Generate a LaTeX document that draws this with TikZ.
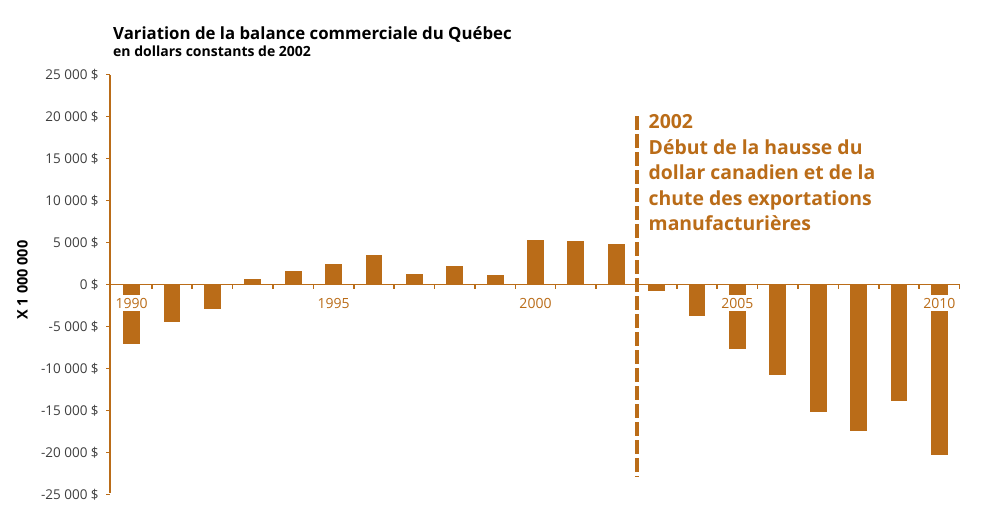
\documentclass[tikz,border=0pt]{standalone}
\usepackage{fontspec}
\setmainfont{Open Sans}
\usetikzlibrary{positioning}
\definecolor{Bronze}{RGB}{186,108,24}
\definecolor{Ink}{RGB}{62,62,62}
\newcommand{\barx}[1]{131.7+40.38*(#1-1990)}
\newcommand{\valy}[1]{284.3-8.4*(#1)}

\begin{document}
\begin{tikzpicture}[x=1pt, y=-1pt,
    axisline/.style={draw=Bronze, line width=1.6pt},
    barbox/.style={fill=Bronze},
    ylab/.style={anchor=east, inner sep=0pt, text=Ink, font=\fontsize{13.5}{14}\selectfont},
    yearlab/.style={fill=white, text=Bronze, inner xsep=1pt, inner ysep=2.6pt, font=\fontsize{14}{15}\selectfont},
    marker/.style={draw=Bronze, line width=4.3pt, dash pattern=on 13.5pt off 4.5pt},
    note/.style={anchor=base west, align=left, inner sep=0pt, text=Bronze, font=\bfseries\fontsize{19.4}{25.4}\selectfont}]
    \useasboundingbox (0,0) rectangle (982,519);

    \node (title) [anchor=base west, inner sep=0pt, font=\bfseries\fontsize{16.8}{20}\selectfont] at (113,39.3) {Variation de la balance commerciale du Québec};
    \node (subtitle) [anchor=base west, inner sep=0pt, font=\bfseries\fontsize{14}{16}\selectfont] at (113,56.7) {en dollars constants de 2002};
    \node (unit) [rotate=90, inner sep=0pt, font=\bfseries\fontsize{14.5}{16}\selectfont] at (22.5,280) {X 1 000 000};

    % values in thousands of millions
    \draw[axisline] (110,75) -- (110,493);
    \foreach \v/\lab [count=\i] in {25/25 000 \$, 20/20 000 \$, 15/15 000 \$, 10/10 000 \$, 5/5 000 \$, 0/0 \$, -5/-5 000 \$, -10/-10 000 \$, -15/-15 000 \$, -20/-20 000 \$, -25/-25 000 \$}
        \draw[axisline] (110,{\valy{\v}}) -- ++(-4.5,0) node (ylab\i) [ylab, xshift=-6pt] {\lab};

    \draw[axisline] (110,284.3) -- (959.5,284.3);
    \foreach \k in {0,...,20}
        \draw[axisline] ({\barx{1990.5+\k}},284.3) -- ++(0,4.5);

    \foreach \yr/\val in {1990/-7.05, 1991/-4.5, 1992/-2.9, 1993/0.6, 1994/1.6, 1995/2.45, 1996/3.45, 1997/1.26, 1998/2.2, 1999/1.15, 2000/5.27, 2001/5.15, 2002/4.76, 2003/-0.8, 2004/-3.8, 2005/-7.74, 2006/-10.8, 2007/-15.15, 2008/-17.5, 2009/-13.9, 2010/-20.3}
        \fill[barbox] ({\barx{\yr}-8.4},284.3) rectangle ({\barx{\yr}+8.4},{\valy{\val}});

    \foreach \yr in {1990,1995,2000,2005,2010}
        \node (year\yr) [yearlab] at ({\barx{\yr}},303) {\yr};

    \draw[marker] (636.7,116) -- (636.7,476.7);
    \node (note) [note] at (648.5,230.5) {2002\\Début de la hausse du\\dollar canadien et de la\\chute des exportations\\manufacturières};
\end{tikzpicture}
\end{document}
